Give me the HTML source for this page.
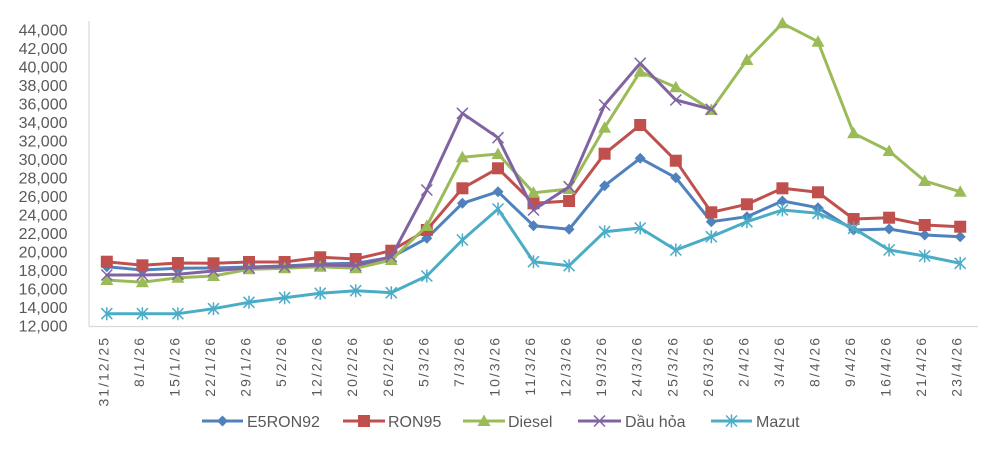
<!DOCTYPE html>
<html>
<head>
<meta charset="utf-8">
<style>
html,body{margin:0;padding:0;background:#fff;}
svg{display:block;}
text{font-family:"Liberation Sans","DejaVu Sans",sans-serif;fill:#595959;}
</style>
</head>
<body>
<svg width="1000" height="449" viewBox="0 0 1000 449" xmlns="http://www.w3.org/2000/svg">
<defs>
<marker id="mD" markerUnits="userSpaceOnUse" viewBox="-8 -8 16 16" markerWidth="16" markerHeight="16" refX="0" refY="0" overflow="visible">
<path d="M0,-5.5 L5.5,0 L0,5.5 L-5.5,0 Z" fill="#4F81BD"/>
</marker>
<marker id="mS" markerUnits="userSpaceOnUse" viewBox="-8 -8 16 16" markerWidth="16" markerHeight="16" refX="0" refY="0" overflow="visible">
<rect x="-6" y="-6" width="12" height="12" fill="#C0504D"/>
</marker>
<marker id="mT" markerUnits="userSpaceOnUse" viewBox="-8 -8 16 16" markerWidth="16" markerHeight="16" refX="0" refY="0" overflow="visible">
<path d="M0,-6.5 L6.5,5 L-6.5,5 Z" fill="#9BBB59"/>
</marker>
<marker id="mX" markerUnits="userSpaceOnUse" viewBox="-8 -8 16 16" markerWidth="16" markerHeight="16" refX="0" refY="0" overflow="visible">
<path d="M-5.5,-5.5 L5.5,5.5 M-5.5,5.5 L5.5,-5.5" stroke="#8064A2" stroke-width="1.5" fill="none"/>
</marker>
<marker id="mA" markerUnits="userSpaceOnUse" viewBox="-8 -8 16 16" markerWidth="16" markerHeight="16" refX="0" refY="0" overflow="visible">
<path d="M-5.5,-5.5 L5.5,5.5 M-5.5,5.5 L5.5,-5.5 M0,-6.5 L0,6.5" stroke="#4BACC6" stroke-width="1.5" fill="none"/>
</marker>
</defs>

<!-- axes -->
<line x1="89" y1="21" x2="89" y2="326.5" stroke="#d9d9d9" stroke-width="1.2"/>
<line x1="89" y1="326.5" x2="978" y2="326.5" stroke="#d9d9d9" stroke-width="1.2"/>

<!-- y labels -->
<g font-size="16" text-anchor="end">
<text x="67.5" y="35.7">44,000</text>
<text x="67.5" y="54.2">42,000</text>
<text x="67.5" y="72.7">40,000</text>
<text x="67.5" y="91.2">38,000</text>
<text x="67.5" y="109.7">36,000</text>
<text x="67.5" y="128.2">34,000</text>
<text x="67.5" y="146.7">32,000</text>
<text x="67.5" y="165.2">30,000</text>
<text x="67.5" y="183.7">28,000</text>
<text x="67.5" y="202.2">26,000</text>
<text x="67.5" y="220.7">24,000</text>
<text x="67.5" y="239.2">22,000</text>
<text x="67.5" y="257.7">20,000</text>
<text x="67.5" y="276.2">18,000</text>
<text x="67.5" y="294.7">16,000</text>
<text x="67.5" y="313.2">14,000</text>
<text x="67.5" y="331.7">12,000</text>
</g>

<!-- x labels -->
<g font-size="14" text-anchor="end" letter-spacing="2">
<text transform="translate(108.3,336) rotate(-90)">31/12/25</text>
<text transform="translate(143.9,336) rotate(-90)">8/1/26</text>
<text transform="translate(179.4,336) rotate(-90)">15/1/26</text>
<text transform="translate(215,336) rotate(-90)">22/1/26</text>
<text transform="translate(250.5,336) rotate(-90)">29/1/26</text>
<text transform="translate(286.1,336) rotate(-90)">5/2/26</text>
<text transform="translate(321.7,336) rotate(-90)">12/2/26</text>
<text transform="translate(357.2,336) rotate(-90)">20/2/26</text>
<text transform="translate(392.8,336) rotate(-90)">26/2/26</text>
<text transform="translate(428.3,336) rotate(-90)">5/3/26</text>
<text transform="translate(463.9,336) rotate(-90)">7/3/26</text>
<text transform="translate(499.5,336) rotate(-90)">10/3/26</text>
<text transform="translate(535,336) rotate(-90)">11/3/26</text>
<text transform="translate(570.6,336) rotate(-90)">12/3/26</text>
<text transform="translate(606.1,336) rotate(-90)">19/3/26</text>
<text transform="translate(641.7,336) rotate(-90)">24/3/26</text>
<text transform="translate(677.3,336) rotate(-90)">25/3/26</text>
<text transform="translate(712.8,336) rotate(-90)">26/3/26</text>
<text transform="translate(748.4,336) rotate(-90)">2/4/26</text>
<text transform="translate(783.9,336) rotate(-90)">3/4/26</text>
<text transform="translate(819.5,336) rotate(-90)">8/4/26</text>
<text transform="translate(855.1,336) rotate(-90)">9/4/26</text>
<text transform="translate(890.6,336) rotate(-90)">16/4/26</text>
<text transform="translate(926.2,336) rotate(-90)">21/4/26</text>
<text transform="translate(961.7,336) rotate(-90)">23/4/26</text>
</g>

<!-- series -->
<g fill="none" stroke-width="3" stroke-linejoin="round" stroke-linecap="round">
<polyline stroke="#4F81BD" marker-start="url(#mD)" marker-mid="url(#mD)" marker-end="url(#mD)"
points="106.8,266.7 142.4,270 177.9,268.3 213.5,268 249,267 284.6,266 320.2,264 355.7,263.3 391.3,257.3 426.8,238.3 462.4,203.3 498,191.7 533.5,225.7 569.1,229.3 604.6,185.7 640.2,158.3 675.8,177.7 711.3,221.7 746.9,216.7 782.4,201 818,207.7 853.6,230 889.1,229 924.7,235 960.2,236.7"/>
<polyline stroke="#C0504D" marker-start="url(#mS)" marker-mid="url(#mS)" marker-end="url(#mS)"
points="106.8,261.7 142.4,265.3 177.9,263 213.5,263.3 249,262 284.6,262 320.2,257.3 355.7,259 391.3,250.7 426.8,230 462.4,188.3 498,168.3 533.5,203.3 569.1,201 604.6,153.7 640.2,125 675.8,160.7 711.3,212.3 746.9,204.3 782.4,188.3 818,192.3 853.6,219 889.1,217.7 924.7,225 960.2,226.7"/>
<polyline stroke="#9BBB59" marker-start="url(#mT)" marker-mid="url(#mT)" marker-end="url(#mT)"
points="106.8,280 142.4,282.3 177.9,277.7 213.5,276 249,269.3 284.6,268.3 320.2,266.7 355.7,268.3 391.3,260 426.8,226 462.4,157.3 498,154 533.5,192.7 569.1,189 604.6,127.7 640.2,71.7 675.8,87.3 711.3,110 746.9,60 782.4,23.3 818,41.7 853.6,133.3 889.1,151 924.7,181 960.2,191.7"/>
<polyline stroke="#8064A2" marker-start="url(#mX)" marker-mid="url(#mX)" marker-end="url(#mX)"
points="106.8,275 142.4,275 177.9,274.3 213.5,271 249,267.7 284.6,266.7 320.2,265 355.7,265.7 391.3,256.7 426.8,190 462.4,113.3 498,137.7 533.5,210 569.1,186.7 604.6,105 640.2,63.3 675.8,100 711.3,109.3"/>
<polyline stroke="#4BACC6" marker-start="url(#mA)" marker-mid="url(#mA)" marker-end="url(#mA)"
points="106.8,313.7 142.4,313.7 177.9,313.7 213.5,308.7 249,302.3 284.6,297.7 320.2,293.3 355.7,290.7 391.3,292.7 426.8,276 462.4,240 498,209 533.5,261.7 569.1,265.7 604.6,231.7 640.2,228 675.8,250 711.3,236.7 746.9,221.7 782.4,210 818,213.3 853.6,228.3 889.1,250 924.7,256 960.2,263.3"/>
</g>

<!-- legend -->
<g fill="none" stroke-width="3">
<polyline stroke="#4F81BD" points="202,421 222.5,421 243,421" marker-mid="url(#mD)"/>
<polyline stroke="#C0504D" points="343,421 364,421 385,421" marker-mid="url(#mS)"/>
<polyline stroke="#9BBB59" points="463,421 484,421 505,421" marker-mid="url(#mT)"/>
<polyline stroke="#8064A2" points="578,421 599.5,421 621,421" marker-mid="url(#mX)"/>
<polyline stroke="#4BACC6" points="711,421 731.5,421 752,421" marker-mid="url(#mA)"/>
</g>
<g font-size="16">
<text x="247" y="426.8">E5RON92</text>
<text x="388" y="426.8">RON95</text>
<text x="508" y="426.8">Diesel</text>
<text x="625" y="426.8">Dầu hỏa</text>
<text x="756" y="426.8">Mazut</text>
</g>
</svg>
</body>
</html>
